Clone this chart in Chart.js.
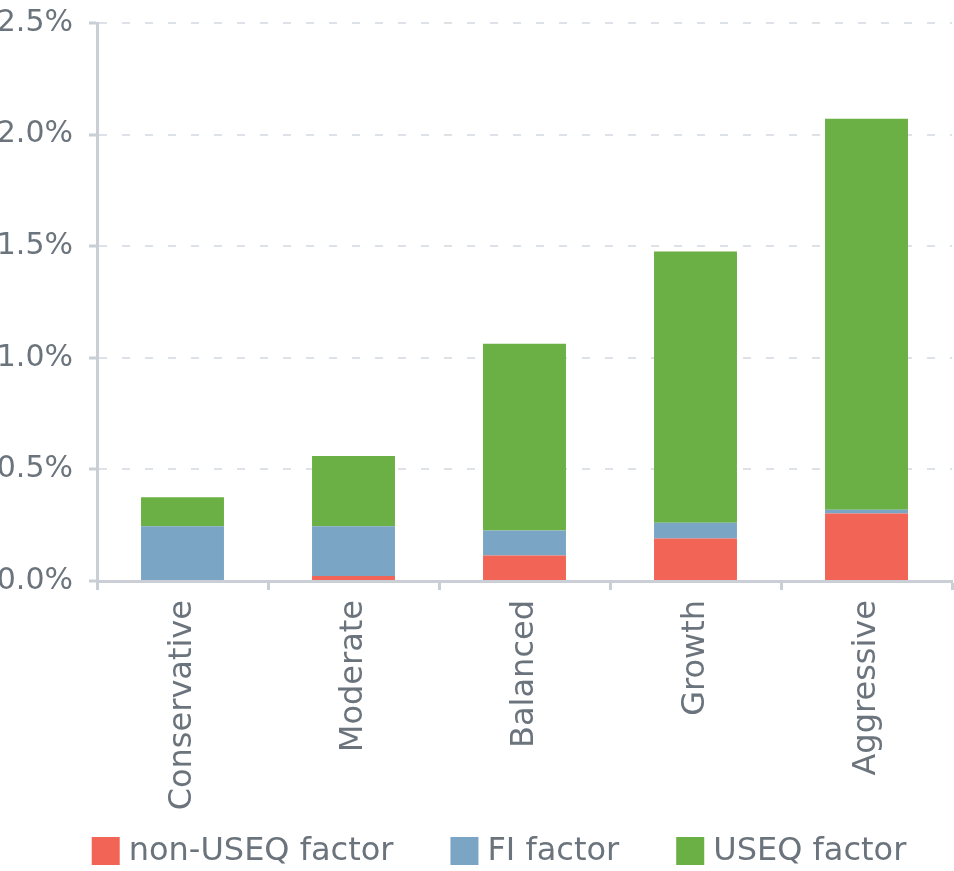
<!DOCTYPE html>
<html><head><meta charset="utf-8">
<script src="https://cdn.jsdelivr.net/npm/chart.js@4.4.1/dist/chart.umd.min.js"></script>
<style>html,body{margin:0;padding:0;background:#fff;} #wrap{width:954px;height:871px;position:relative;}</style>
</head><body><div id="wrap"><canvas id="c"></canvas></div>
<script>
const categories = ['Conservative', 'Moderate', 'Balanced', 'Growth', 'Aggressive'];
const nonUseqFactor = [0.000, 0.022, 0.114, 0.190, 0.302];
const fiFactor = [0.245, 0.223, 0.112, 0.071, 0.017];
const useqFactor = [0.130, 0.315, 0.837, 1.215, 1.752];
const seriesNames = ['non-USEQ factor', 'FI factor', 'USEQ factor'];
const seriesColors = ['#F26455', '#7BA5C5', '#6AB045'];
const yMin = 0, yMax = 2.5, yStep = 0.5;

const FONT = "'DejaVu Sans', sans-serif";
const TEXT = '#6b747c';
const AXIS = '#c9cfd4';
const GRID = '#dde2e8';

// custom bottom legend drawn from the chart's datasets
const bottomLegend = {
  id: 'bottomLegend',
  afterDraw(chart, args, opts) {
    const ctx = chart.ctx;
    ctx.save();
    ctx.font = opts.fontSize + 'px ' + FONT;
    ctx.textBaseline = 'middle';
    ctx.textAlign = 'left';
    const items = chart.data.datasets.map(d => ({ label: d.label, color: d.backgroundColor, w: ctx.measureText(d.label).width }));
    let total = 0;
    items.forEach((it, i) => { total += opts.box + opts.textGap + it.w + (i < items.length - 1 ? opts.itemGap : 0); });
    let x = opts.centerX - total / 2;
    const cy = chart.height - opts.bottom - opts.box / 2;
    items.forEach(it => {
      ctx.fillStyle = it.color;
      ctx.fillRect(x, cy - opts.box / 2, opts.box, opts.box);
      x += opts.box + opts.textGap;
      ctx.fillStyle = TEXT;
      ctx.fillText(it.label, x, cy + 1);
      x += it.w + opts.itemGap;
    });
    ctx.restore();
  }
};

new Chart(document.getElementById('c'), {
  type: 'bar',
  data: {
    labels: categories,
    datasets: seriesNames.map((n, i) => ({
      label: n,
      data: [nonUseqFactor, fiFactor, useqFactor][i],
      backgroundColor: seriesColors[i]
    }))
  },
  plugins: [bottomLegend],
  options: {
    responsive: true,
    maintainAspectRatio: false,
    animation: false,
    devicePixelRatio: 1,
    layout: { padding: { left: 0, right: 2, top: 0, bottom: 50 } },
    datasets: { bar: { categoryPercentage: 1.0, barPercentage: 0.485, borderWidth: 0 } },
    plugins: {
      tooltip: { enabled: false },
      legend: { display: false },
      bottomLegend: { fontSize: 32, box: 28, textGap: 9, itemGap: 57, centerX: 499, bottom: 6 }
    },
    scales: {
      x: {
        stacked: true,
        afterFit: (s) => { s.height = 240; },
        grid: { drawOnChartArea: false, drawTicks: true, tickLength: 9, tickColor: AXIS, tickWidth: 3, offset: true },
        border: { display: true, color: AXIS, width: 3 },
        ticks: { color: TEXT, font: { family: FONT, size: 32 }, maxRotation: 90, minRotation: 90, padding: 10 }
      },
      y: {
        stacked: true,
        min: yMin, max: yMax,
        afterFit: (s) => { s.width = 97; s.paddingTop = 23; s.paddingBottom = 0; },
        grid: { color: GRID, lineWidth: 2, drawTicks: true, tickLength: 8, tickColor: AXIS, tickWidth: 3 },
        border: { display: true, color: AXIS, width: 3, dash: [8, 15], dashOffset: 0 },
        ticks: { stepSize: yStep, color: TEXT, font: { family: FONT, size: 30 }, padding: 16,
          callback: (v) => v.toFixed(1) + '%' }
      }
    }
  }
});
</script></body></html>
